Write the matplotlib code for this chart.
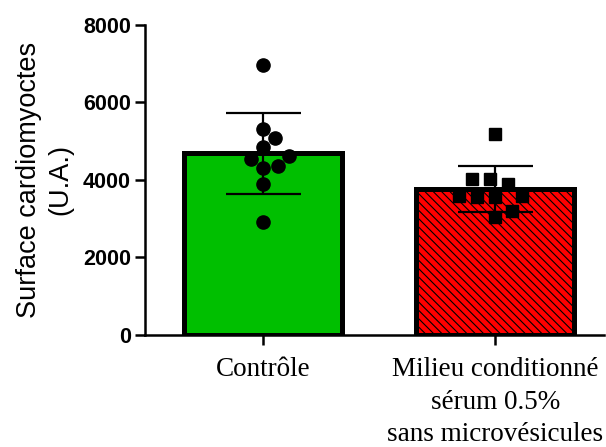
import numpy as np
import matplotlib
matplotlib.use("Agg")
import matplotlib.pyplot as plt

# values
groups = ["Contrôle", "Milieu conditionné\nsérum 0.5%\nsans microvésicules"]
controle = [6950, 5316, 5084, 4835, 4619, 4542, 4318, 4361, 3897, 2916]
milieu = [5187, 4026, 4026, 3897, 3587, 3561, 3561, 3587, 3053, 3200]
yticks = [0, 2000, 4000, 6000, 8000]

plt.rcParams["hatch.linewidth"] = 0.8
plt.rcParams["hatch.color"] = "black"


def swarm(vals, d, sx, sy):
    # simple beeswarm: offsets in data units, d = min spacing in px
    placed = []
    out = np.zeros(len(vals))
    for i in np.argsort(vals):
        y = vals[i] * sy
        cands = [0.0]
        for (px, py) in placed:
            dy = abs(py - y)
            if dy < d:
                dx = np.sqrt(d * d - dy * dy)
                cands += [px + dx, px - dx]
        cands.sort(key=abs)
        for c in cands:
            if all((c - px) ** 2 + (y - py) ** 2 >= d * d - 1e-6 for px, py in placed):
                break
        placed.append((c, y))
        out[i] = c / sx
    return out


fig = plt.figure(figsize=(6.06, 4.47), dpi=100)
ax = fig.add_axes([0.239, 0.2506, 0.758, 0.694])

x = np.arange(len(groups))
data = [np.array(controle), np.array(milieu)]
means = [d.mean() for d in data]
sds = [d.std(ddof=1) for d in data]

ax.bar(x[0], means[0], width=0.68, color="#00bf00", edgecolor="black", linewidth=3.6, zorder=1)
ax.bar(x[1], means[1], width=0.68, color="#ff0000", edgecolor="black", linewidth=3.6,
       hatch="\\\\\\\\", zorder=1)
ax.errorbar(x, means, yerr=sds, fmt="none", ecolor="black", elinewidth=1.6,
            capsize=27, capthick=1.6, zorder=2)

px_per_x = 232.0
px_per_y = 310.0 / 8000
markers = ["o", "s"]
spacing = [15.0, 18.0]
for i, d in enumerate(data):
    off = swarm(d, spacing[i], px_per_x, px_per_y)
    ax.plot(x[i] + off, d, linestyle="none", marker=markers[i], markersize=9.5 if i == 0 else 9,
            color="black", zorder=3)

ax.set_xlim(-0.51, 1.47)
ax.set_ylim(0, 8000)
ax.set_yticks(yticks)
ax.set_yticklabels([str(t) for t in yticks], fontfamily="Liberation Sans", fontweight="bold", fontsize=15.5)
ax.set_xticks(x)
ax.set_xticklabels(groups, fontfamily="Liberation Serif", fontsize=19.5, linespacing=1.4)
ax.set_ylabel("Surface cardiomyoctes\n(U.A.)", fontfamily="Liberation Sans", fontsize=19.5,
              labelpad=7, linespacing=1.25)

for s in ["top", "right"]:
    ax.spines[s].set_visible(False)
ax.spines["left"].set_linewidth(1.8)
ax.spines["bottom"].set_linewidth(1.8)
ax.tick_params(axis="both", width=1.8, length=7)
ax.tick_params(axis="x", pad=9)
ax.tick_params(axis="y", pad=3)

fig.savefig("out.png", dpi=100)
